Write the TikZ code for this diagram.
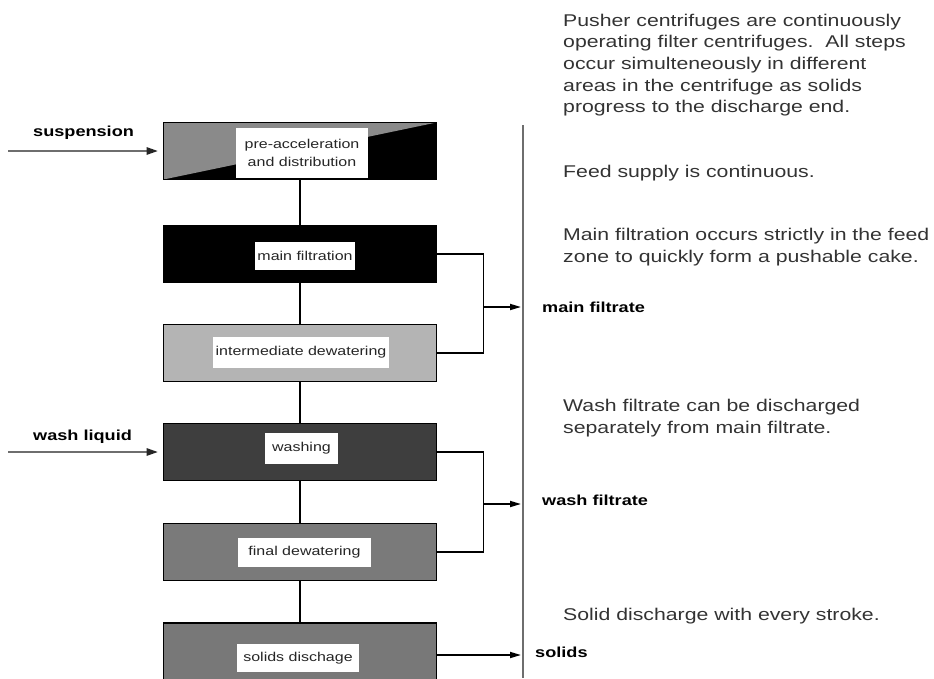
\documentclass[tikz,border=0pt]{standalone}
\usepackage{fontspec}
\setmainfont{Liberation Sans}[FakeStretch=1.25]
\usetikzlibrary{arrows.meta}
\definecolor{preGray}{HTML}{8A8A8A}
\definecolor{interGray}{HTML}{B4B4B4}
\definecolor{washGray}{HTML}{3E3E3E}
\definecolor{finalGray}{HTML}{7A7A7A}
\definecolor{solGray}{HTML}{787878}
\definecolor{txtGray}{HTML}{333333}
\definecolor{lineGray}{HTML}{6E6E6E}
\begin{document}
\begin{tikzpicture}[x=1pt,y=-1pt,
  stage/.style={draw=black, line width=1.8pt, minimum width=273pt, minimum height=57pt, inner sep=0pt, outer sep=0pt},
  lbl/.style={fill=white, inner sep=0pt, minimum height=28pt, text=black!85, font=\fontsize{12.8pt}{15pt}\selectfont},
  desc/.style={anchor=base west, inner sep=0pt, text=txtGray, font=\fontsize{17pt}{21pt}\selectfont},
  flow/.style={anchor=base west, inner sep=0pt, font=\bfseries\fontsize{14.5pt}{17pt}\selectfont},
  link/.style={draw=black, line width=1.7pt},
  outarrow/.style={link, -{Triangle[length=11pt,width=6pt]}},
  inarrow/.style={draw=lineGray, line width=2.8pt, -{Triangle[length=12pt,width=7pt,color=black!85]}, shorten >=5pt}
]
\useasboundingbox (0,0) rectangle (934,678);
\clip (0,0) rectangle (934,678);

% stages
\node[stage, fill=black, path picture={\fill[preGray] (path picture bounding box.north west) -- (path picture bounding box.north east) -- (path picture bounding box.south west) -- cycle;}] (pre) at (300,151) {};
\node[lbl, minimum width=132pt, minimum height=50pt, align=center, font=\fontsize{12.8pt}{18pt}\selectfont] (preL) at (302,153) {pre-acceleration\\and distribution};

\node[stage, fill=black] (mf) at (300,254) {};
\node[lbl, minimum width=100pt] (mfL) at (305,256) {main filtration};

\node[stage, fill=interGray] (inter) at (300,353) {};
\node[lbl, minimum width=176pt, minimum height=31pt] (interL) at (301,352.5) {intermediate dewatering};

\node[stage, fill=washGray] (wash) at (300,452) {};
\node[lbl, minimum width=73pt, minimum height=31pt] (washL) at (301.5,448.5) {washing};

\node[stage, fill=finalGray] (final) at (300,552) {};
\node[lbl, minimum width=133pt, minimum height=29pt] (finalL) at (304.5,552.5) {final dewatering};

\node[stage, fill=solGray, minimum height=58pt] (sd) at (300,652) {};
\node[lbl, minimum width=122pt] (sdL) at (298,658) {solids dischage};

% vertical links
\draw[link] (pre) -- (mf);
\draw[link] (mf) -- (inter);
\draw[link] (inter) -- (wash);
\draw[link] (wash) -- (final);
\draw[link] (final) -- (sd);

% collecting line
\coordinate (vTop) at (523,125);
\coordinate (vBot) at (523,678);
\draw[draw=lineGray, line width=2pt] (vTop) -- (vBot);

% filtrate collectors
\draw[link] (mf.east) -- ++(47,0) |- (inter.east);
\coordinate (mfJ) at (483,307);
\coordinate (mfE) at (521,307);
\draw[outarrow] (mfJ) -- (mfE);

\draw[link] (wash.east) -- ++(47,0) |- (final.east);
\coordinate (wfJ) at (483,504);
\coordinate (wfE) at (521,504);
\draw[outarrow] (wfJ) -- (wfE);

\coordinate (sdE) at (521,655);
\draw[outarrow] ([yshift=-3pt]sd.east) -- (sdE);

% inputs
\coordinate (suspS) at (8,151);
\draw[inarrow] (suspS) -- (pre.west);
\coordinate (washS) at (8,452);
\draw[inarrow] (washS) -- (wash.west);

\node[flow] (suspT) at (33,136) {suspension};
\node[flow] (washT) at (33,440) {wash liquid};
\node[flow] (mfT) at (542,312) {main filtrate};
\node[flow] (wfT) at (542,505) {wash filtrate};
\node[flow] (sdT) at (535,657) {solids};

% description
\node[desc] (d1) at (563,26) {Pusher centrifuges are continuously};
\node[desc] (d2) at (563,47.7) {operating filter centrifuges.\ \ All steps};
\node[desc] (d3) at (563,69.4) {occur simulteneously in different};
\node[desc] (d4) at (563,91.1) {areas in the centrifuge as solids};
\node[desc] (d5) at (563,112.8) {progress to the discharge end.};
\node[desc] (d6) at (563,177.3) {Feed supply is continuous.};
\node[desc] (d7) at (563,240.7) {Main filtration occurs strictly in the feed};
\node[desc] (d8) at (563,262.7) {zone to quickly form a pushable cake.};
\node[desc] (d9) at (563,411.7) {Wash filtrate can be discharged};
\node[desc] (d10) at (563,433.5) {separately from main filtrate.};
\node[desc] (d11) at (563,620) {Solid discharge with every stroke.};
\end{tikzpicture}
\end{document}
